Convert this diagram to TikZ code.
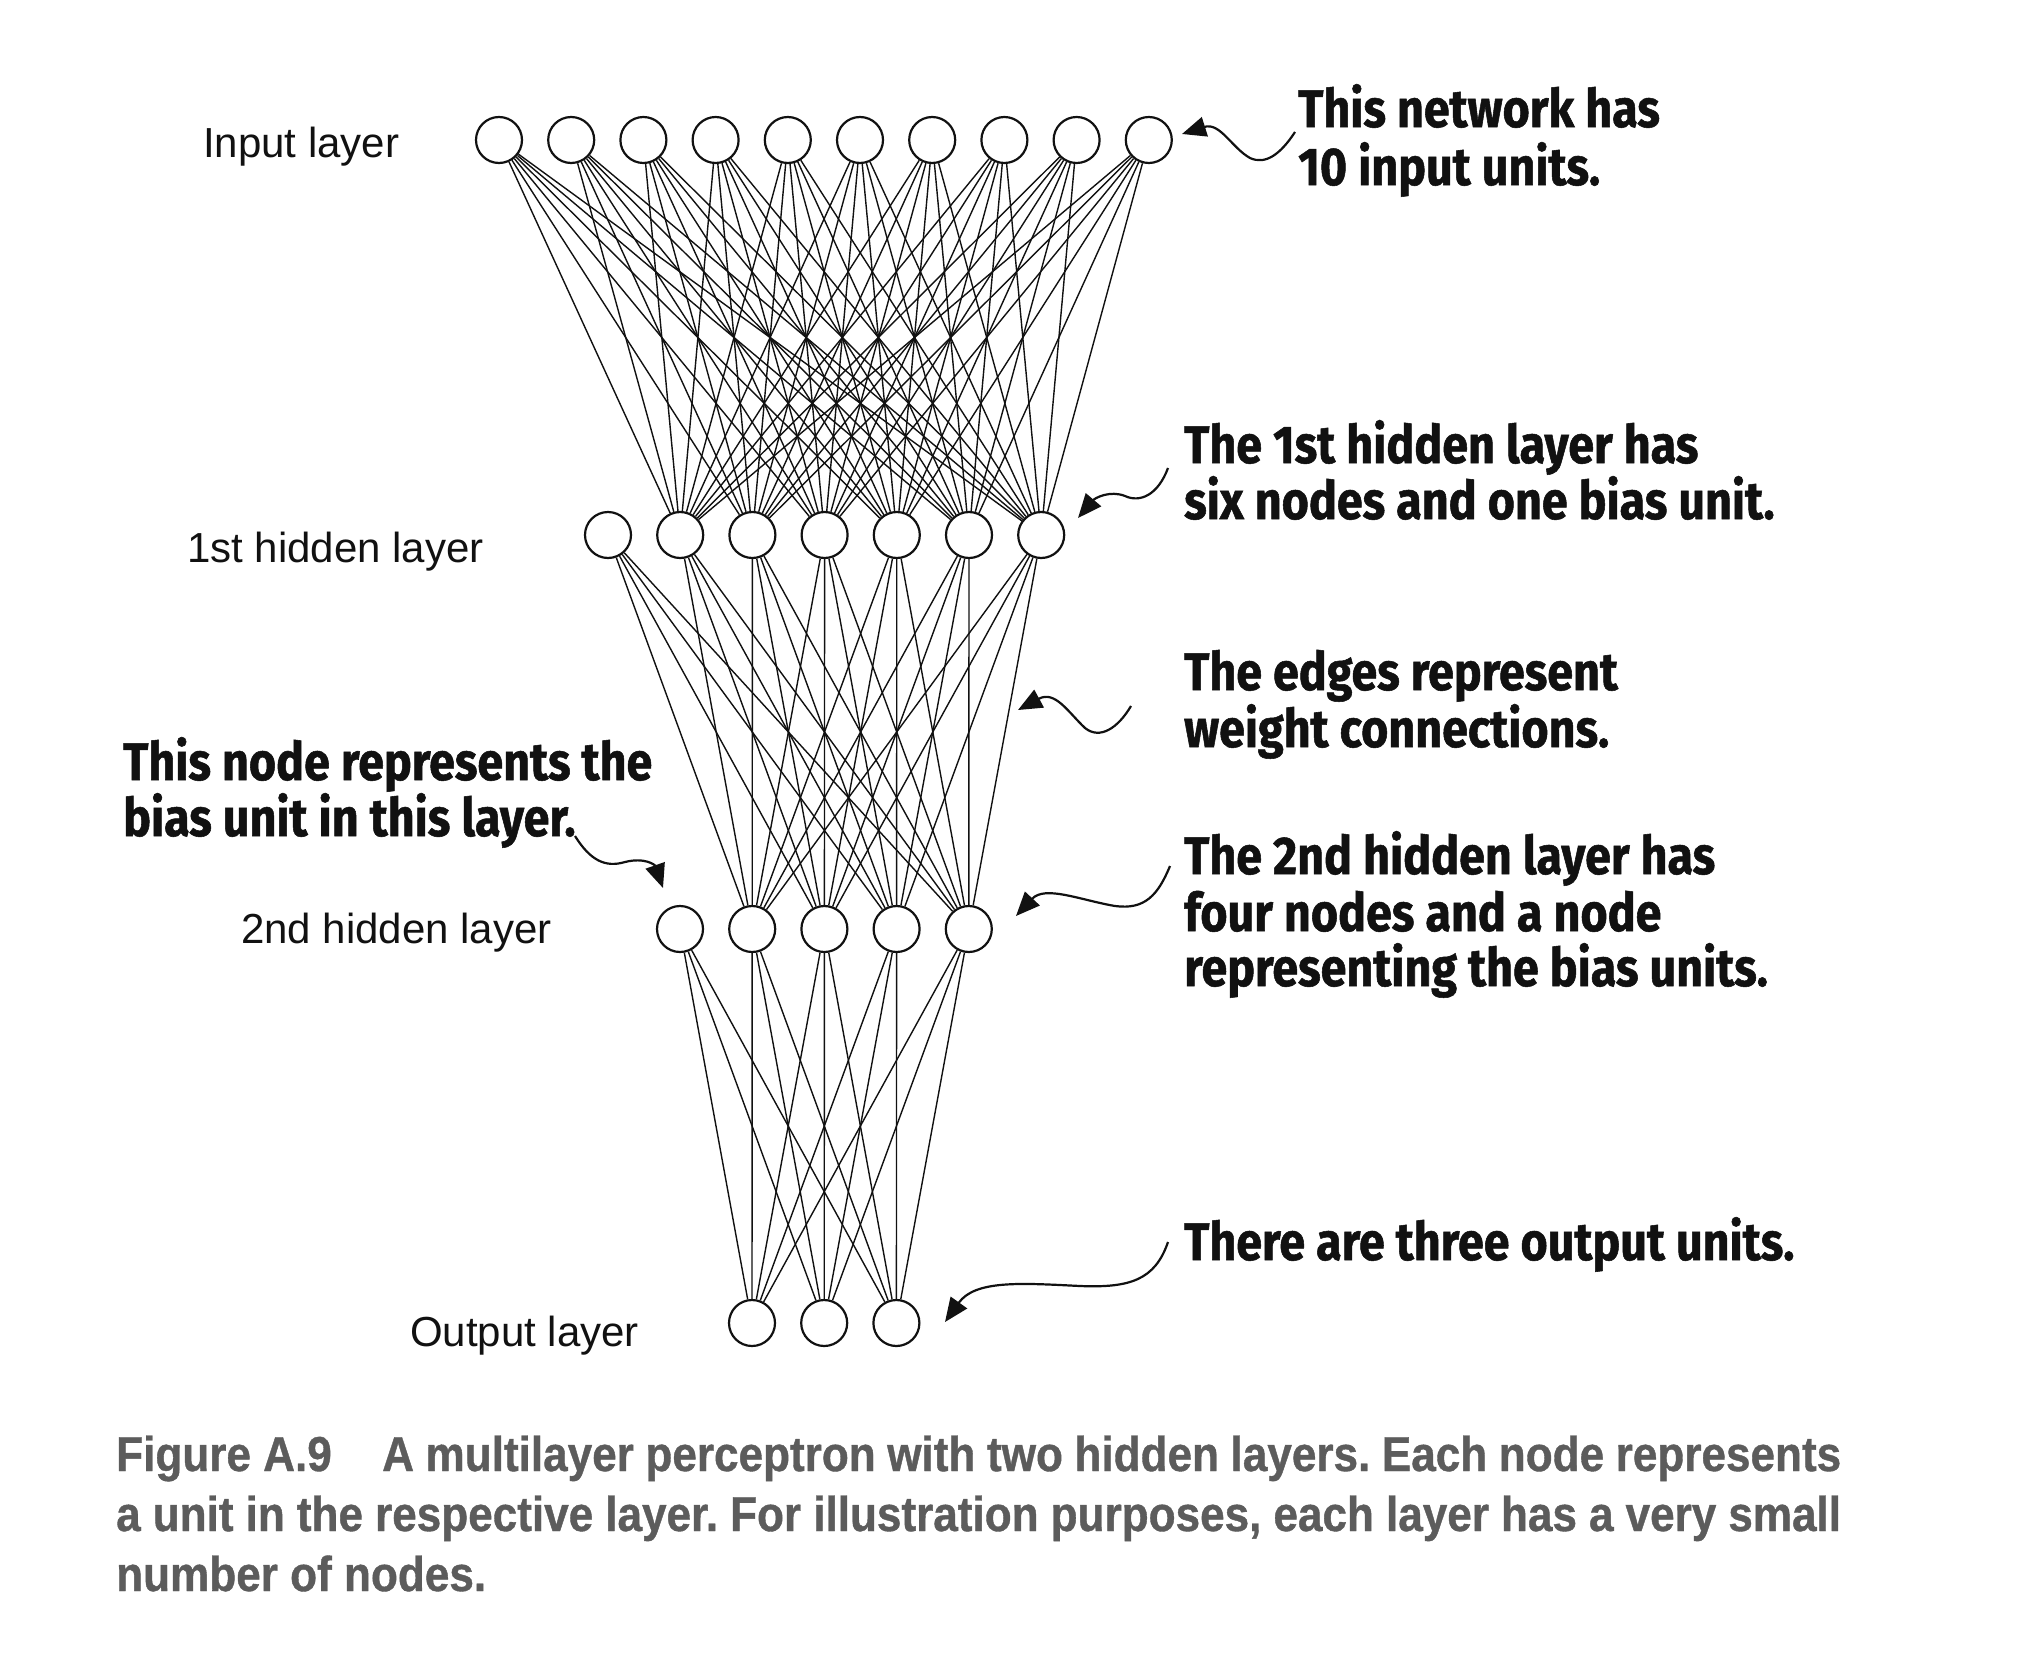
\documentclass[tikz,border=0pt]{standalone}
\usepackage{fontspec}
\setmainfont{Liberation Sans}
\newfontfamily\annfont{Fira Sans}[FakeStretch=0.88, BoldFeatures={FakeBold=1}]
\newfontfamily\capfont{Liberation Sans}[FakeStretch=0.9, BoldFeatures={FakeBold=0.8}]
\usetikzlibrary{arrows.meta}
\definecolor{capgray}{RGB}{92,92,92}
\definecolor{ink}{RGB}{17,17,17}
\tikzset{
 neuron/.style={circle, draw=ink, line width=2.2pt, fill=white, minimum size=46pt, inner sep=0pt},
 wire/.style={draw=ink, line width=1.4pt},
 layerlabel/.style={anchor=base west, inner sep=0pt, font=\fontsize{42}{50}\selectfont, text=ink},
 ann/.style={anchor=base west, inner sep=0pt, font=\annfont\bfseries\fontsize{53}{57}\selectfont, text=ink},
 callout/.style={draw=ink, line width=2.2pt, -{Triangle[length=24pt,width=20pt]}},
 capt/.style={anchor=base west, inner sep=0pt, font=\capfont\bfseries\fontsize{49}{60}\selectfont\frenchspacing, text=capgray},
}
\begin{document}
\begin{tikzpicture}[x=1pt,y=-1pt]
\useasboundingbox (0,0) rectangle (2024,1670);
\fill[white] (0,0) rectangle (2024,1670);

% nodes
\foreach \i in {1,...,10} \node[neuron] (i\i) at ({499+72.2*(\i-1)},140) {};
\foreach \i in {1,...,7} \node[neuron] (h\i) at ({608+72.2*(\i-1)},535) {};
\foreach \i in {1,...,5} \node[neuron] (g\i) at ({680+72.2*(\i-1)},929) {};
\foreach \i in {1,...,3} \node[neuron] (o\i) at ({752+72.2*(\i-1)},1323) {};

% connections
\foreach \a in {1,...,10} \foreach \b in {2,...,7} \draw[wire] (i\a) -- (h\b);
\foreach \a in {1,...,7} \foreach \b in {2,...,5} \draw[wire] (h\a) -- (g\b);
\foreach \a in {1,...,5} \foreach \b in {1,...,3} \draw[wire] (g\a) -- (o\b);

% layer labels
\node[layerlabel] (lin) at (203,157) {Input layer};
\node[layerlabel] (lh1) at (187,562) {1st hidden layer};
\node[layerlabel] (lh2) at (241,943) {2nd hidden layer};
\node[layerlabel] (lout) at (410,1346) {Output layer};

% annotations
\node[ann] (t1a) at (1298,127) {This network has};
\node[ann] (t1b) at (1298,185) {10 input units.};
\node[ann] (t2a) at (1184,463) {The 1st hidden layer has};
\node[ann] (t2b) at (1184,519) {six nodes and one bias unit.};
\node[ann] (t3a) at (1184,690) {The edges represent};
\node[ann] (t3b) at (1184,747) {weight connections.};
\node[ann] (t4a) at (1184,874) {The 2nd hidden layer has};
\node[ann] (t4b) at (1184,931) {four nodes and a node};
\node[ann] (t4c) at (1184,986) {representing the bias units.};
\node[ann] (t5a) at (1184,1260) {There are three output units.};
\node[ann] (t6a) at (123,780) {This node represents the};
\node[ann] (t6b) at (123,836) {bias unit in this layer.};

% callout arrows
\coordinate (a1s) at (1295,132); \coordinate (a1e) at (1182,134);
\draw[callout] (a1s) .. controls (1280,155) and (1265,165) .. (1250,158) .. controls (1232,148) and (1220,122) .. (a1e);
\coordinate (a2s) at (1168,468); \coordinate (a2e) at (1078,518);
\draw[callout] (a2s) .. controls (1158,495) and (1140,503) .. (1125,496) .. controls (1110,490) and (1095,498) .. (a2e);
\coordinate (a3s) at (1131,706); \coordinate (a3e) at (1018,710);
\draw[callout] (a3s) .. controls (1118,728) and (1100,740) .. (1085,728) .. controls (1068,712) and (1055,690) .. (a3e);
\coordinate (a4s) at (1170,866); \coordinate (a4e) at (1016,916);
\draw[callout] (a4s) .. controls (1158,895) and (1145,910) .. (1115,906) .. controls (1080,900) and (1045,885) .. (a4e);
\coordinate (a5s) at (1168,1242); \coordinate (a5e) at (945,1322);
\draw[callout] (a5s) .. controls (1155,1280) and (1130,1288) .. (1080,1286) .. controls (1020,1283) and (975,1280) .. (a5e);
\coordinate (a6s) at (575,836); \coordinate (a6e) at (663,888);
\draw[callout] (a6s) .. controls (590,860) and (605,868) .. (625,862) .. controls (645,857) and (655,865) .. (a6e);

% caption
\node[capt] (c0) at (116,1471) {Figure A.9};
\node[capt] (c1) at (382,1471) {\makebox[1459pt][s]{A multilayer perceptron with two hidden layers. Each node represents}};
\node[capt] (c2) at (116,1531) {\makebox[1725pt][s]{a unit in the respective layer. For illustration purposes, each layer has a very small}};
\node[capt] (c3) at (116,1591) {number of nodes.};
\end{tikzpicture}
\end{document}
